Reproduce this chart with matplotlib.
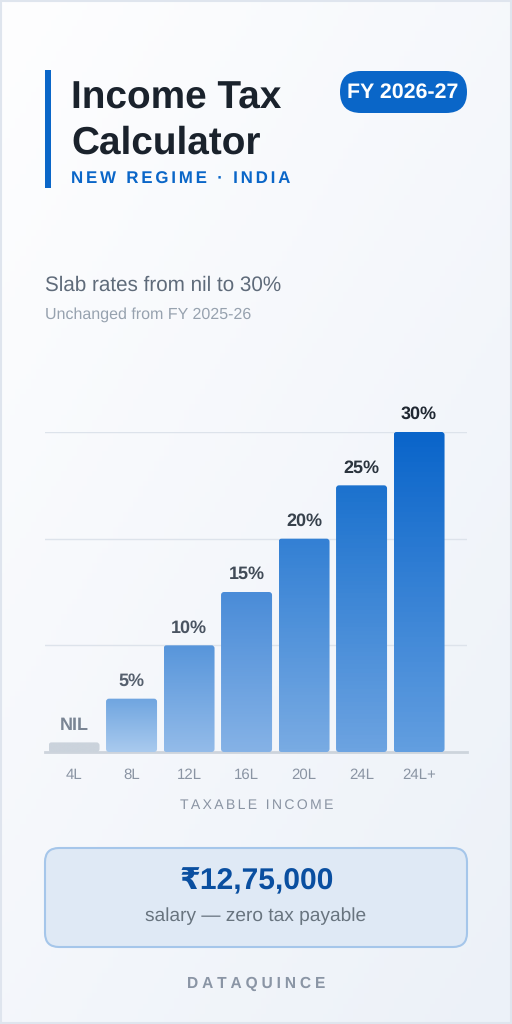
import numpy as np
import matplotlib
matplotlib.use("Agg")
import matplotlib.pyplot as plt
from matplotlib.colors import to_rgb
from matplotlib.patches import FancyBboxPatch, Rectangle

plt.rcParams['font.family'] = ['Liberation Sans', 'DejaVu Sans']
plt.rcParams['text.hinting'] = 'no_hinting'
plt.rcParams['text.hinting_factor'] = 8

####### data
categories = ["4L", "8L", "12L", "16L", "20L", "24L", "24L+"]
bar_heights = [0.9, 5, 10, 15, 20, 25, 30]
rate_labels = ["NIL", "5%", "10%", "15%", "20%", "25%", "30%"]
grid_values = [10, 20, 30]

top_colors = ["#CBD3DC", "#6FA5E0", "#5896DB", "#4A8CD8", "#3380D4", "#1C72CE", "#0A65CA"]
bottom_colors = ["#CBD3DC", "#A9CAEE", "#93BBE9", "#85B2E6", "#79ABE3", "#6CA3E1", "#629EE0"]
label_colors = ["#7A8594", "#56606E", "#4A5461", "#414B57", "#38424D", "#2B343E", "#1F2731"]


def spaced(s, n=2):
    return ("\u200a" * n).join(s)


def px_font(px):
    return px * 0.72


fig = plt.figure(figsize=(5.12, 10.24), dpi=100)

####### background and decoration, in pixels
bg = fig.add_axes([0, 0, 1, 1])
bg.set_xlim(0, 512)
bg.set_ylim(1024, 0)
bg.axis("off")

yy, xx = np.mgrid[0:1:200j, 0:1:100j]
t = (xx * 0.45 + yy * 0.55)[..., None]
c0 = np.array(to_rgb("#FEFEFF"))
c1 = np.array(to_rgb("#ECF1F8"))
bg.imshow(c0 + (c1 - c0) * t, extent=(0, 512, 1024, 0), aspect="auto", zorder=0)
bg.set_xlim(0, 512)
bg.set_ylim(1024, 0)
bg.add_patch(Rectangle((1, 1), 510, 1022, fill=False, ec="#DFE5EE", lw=1.5, zorder=1))

bg.add_patch(Rectangle((45, 70), 6, 118, fc="#0A66C8", ec="none", zorder=2))
bg.text(71, 99, "Income Tax", fontsize=px_font(38.8), fontweight="bold", color="#1A222C", va="center", ha="left")
bg.text(71, 144, "Calculator", fontsize=px_font(38.8), fontweight="bold", color="#1A222C", va="center", ha="left")
bg.text(71, 179, spaced("NEW REGIME · INDIA"), fontsize=px_font(16.9), fontweight="bold", color="#0A66C8", va="center", ha="left")

bg.add_patch(FancyBboxPatch((340, 71), 127, 42, boxstyle="round,pad=0,rounding_size=21", fc="#0A66C8", ec="none", zorder=2))
bg.text(403, 92, "FY 2026-27", fontsize=px_font(21.4), fontweight="bold", color="white", va="center", ha="center", zorder=3)

bg.text(45, 285, "Slab rates from nil to 30%", fontsize=px_font(20.6), color="#5F6B7A", va="center", ha="left")
bg.text(45, 315, "Unchanged from FY 2025-26", fontsize=px_font(16), color="#97A2AF", va="center", ha="left")

bg.text(256.5, 805, spaced("TAXABLE INCOME"), fontsize=px_font(14), color="#8A94A3", va="center", ha="center")

bg.add_patch(FancyBboxPatch((45, 848), 422, 99, boxstyle="round,pad=0,rounding_size=14", fc="#DFE9F5", ec="#A5C6EA", lw=1.5, zorder=2))
bg.text(256.5, 882, "₹12,75,000", fontsize=px_font(30), fontweight="bold", color="#0A4FA0", va="center", ha="center", zorder=3)
bg.text(256, 916, "salary — zero tax payable", fontsize=px_font(19.2), color="#68747F", va="center", ha="center", zorder=3)
bg.text(256.5, 984, spaced("DATAQUINCE", 3), fontsize=px_font(15.5), fontweight="bold", color="#8A95A5", va="center", ha="center")

####### chart
ax = fig.add_axes([45 / 512, 1 - 752 / 1024, 422 / 512, 320 / 1024])
ax.patch.set_alpha(0)
x = np.arange(len(categories))
xlim = (-0.505, 6.834)
ylim = (0, 30)
bars = ax.bar(x, bar_heights, width=51 / 57.5, facecolor="none", edgecolor="none")

for b, top, bottom, lab, col in zip(bars, top_colors, bottom_colors, rate_labels, label_colors):
    x0, w, h = b.get_x(), b.get_width(), b.get_height()
    grad = np.linspace(to_rgb(top), to_rgb(bottom), 64)[:, None, :]
    im = ax.imshow(grad, extent=(x0, x0 + w, 0, h), origin="upper", aspect="auto", zorder=3)
    clip = FancyBboxPatch((x0, 0), w, h, boxstyle="round,pad=0,rounding_size=0.052",
                          mutation_aspect=5.39, fc="none", ec="none", transform=ax.transData)
    ax.add_patch(clip)
    im.set_clip_path(clip)
    ax.annotate(lab, (x0 + w / 2, h), xytext=(0, 6.5), textcoords="offset points", ha="center", va="bottom",
                fontsize=px_font(18), fontweight="bold", color=col, annotation_clip=False)

ax.set_xlim(xlim)
ax.set_ylim(ylim)
ax.set_yticks(grid_values)
ax.set_yticklabels([])
ax.set_xticks(x)
ax.set_xticklabels(categories, fontsize=px_font(15), color="#8A94A3")
ax.tick_params(axis="both", length=0)
ax.tick_params(axis="x", pad=11.5)
ax.grid(axis="y", color="#DDE3EB", lw=1.0, zorder=1)
ax.set_axisbelow(True)
for s in ["top", "left", "right"]:
    ax.spines[s].set_visible(False)
ax.spines["bottom"].set_color("#CDD4DC")
ax.spines["bottom"].set_linewidth(2)

fig.savefig("out.png", dpi=100)
